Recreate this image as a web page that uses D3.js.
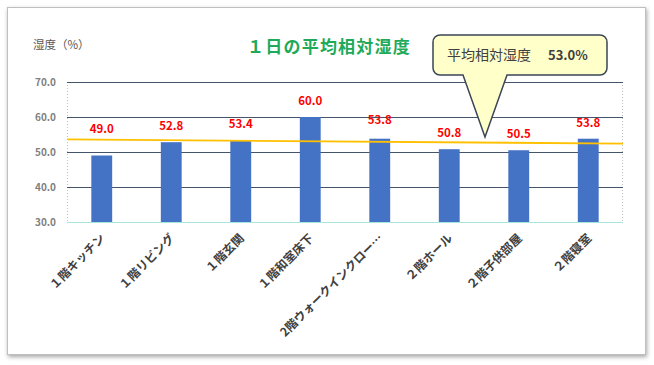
<!DOCTYPE html>
<meta charset="utf-8">
<style>
body { margin: 0; background: #fff; }
text { font-family: "Noto Sans CJK JP", "Noto Sans", sans-serif; }
.bar { fill: #4472C4; }
.grid line { stroke: #44546A; stroke-width: 1; }
.ytick { fill: #7F7F7F; font-size: 10px; font-weight: bold; }
.xlab { fill: #404040; font-size: 12px; font-weight: bold; }
.val { fill: #FF0000; font-size: 11.5px; font-weight: bold; }
</style>
<svg width="654" height="365"></svg>
<script src="https://cdn.jsdelivr.net/npm/d3@7"></script>
<script>

var categories = ["１階キッチン", "１階リビング", "１階玄関", "１階和室床下",
                  "2階ウォークインクロー…", "２階ホール", "２階子供部屋", "２階寝室"];
var humidity = [49.0, 52.8, 53.4, 60.0, 53.8, 50.8, 50.5, 53.8];
var yTicks = [30, 40, 50, 60, 70];
var avgLine = [53.6, 52.4];   // yellow line, left end / right end
var avgValue = 53.0;
var title = "１日の平均相対湿度";
var yTitle = "湿度（%）";
var calloutLabel = "平均相対湿度";

var svg = d3.select("svg");

var defs = svg.append("defs");
defs.append("filter").attr("id", "shadow")
    .attr("x", "-5%").attr("y", "-5%").attr("width", "110%").attr("height", "115%")
  .append("feDropShadow")
    .attr("dx", 1).attr("dy", 2).attr("stdDeviation", 2)
    .attr("flood-color", "#000").attr("flood-opacity", 0.35);

// outer chart frame
svg.append("rect")
    .attr("x", 7.5).attr("y", 7.5).attr("width", 638).attr("height", 347)
    .attr("fill", "#fff").attr("stroke", "#BFBFBF")
    .attr("filter", "url(#shadow)");

var plot = {left: 67, right: 623, top: 82, bottom: 222};

var x = d3.scaleBand()
    .domain(categories)
    .range([plot.left, plot.right])
    .paddingInner(0.7)
    .paddingOuter(0.35);

var y = d3.scaleLinear()
    .domain([30, 70])
    .range([plot.bottom, plot.top]);

// plot border (dotted sides)
svg.append("line")
    .attr("x1", plot.left + 0.5).attr("x2", plot.left + 0.5)
    .attr("y1", plot.top).attr("y2", plot.bottom)
    .attr("stroke", "#BFBFBF").attr("stroke-dasharray", "1,2");
svg.append("line")
    .attr("x1", plot.right - 0.5).attr("x2", plot.right - 0.5)
    .attr("y1", plot.top).attr("y2", plot.bottom)
    .attr("stroke", "#BFBFBF").attr("stroke-dasharray", "1,2");

// gridlines
svg.append("g").attr("class", "grid")
  .selectAll("line")
  .data(yTicks.filter(function(d) { return d > 30; }))
  .enter().append("line")
    .attr("x1", plot.left).attr("x2", plot.right)
    .attr("y1", function(d) { return Math.round(y(d)) + 0.5; })
    .attr("y2", function(d) { return Math.round(y(d)) + 0.5; });

// y tick labels
svg.append("g")
  .selectAll("text")
  .data(yTicks)
  .enter().append("text")
    .attr("class", "ytick")
    .attr("x", 56)
    .attr("y", function(d) { return y(d); })
    .attr("dy", "0.35em")
    .attr("text-anchor", "end")
    .text(function(d) { return d3.format(".1f")(d); });

// bars
svg.append("g")
  .selectAll("rect")
  .data(humidity)
  .enter().append("rect")
    .attr("class", "bar")
    .attr("x", function(d, i) { return x(categories[i]); })
    .attr("width", x.bandwidth())
    .attr("y", function(d) { return y(d); })
    .attr("height", function(d) { return y(30) - y(d); });

// category axis line
svg.append("line")
    .attr("x1", plot.left).attr("x2", plot.right)
    .attr("y1", plot.bottom + 0.5).attr("y2", plot.bottom + 0.5)
    .attr("stroke", "#A6E6DF");

// average line
svg.append("line")
    .attr("x1", plot.left).attr("x2", plot.right)
    .attr("y1", y(avgLine[0])).attr("y2", y(avgLine[1]))
    .attr("stroke", "#FFC000").attr("stroke-width", 1.8);

// value labels (first one lifted clear of the average line)
svg.append("g")
  .selectAll("text")
  .data(humidity)
  .enter().append("text")
    .attr("class", "val")
    .attr("x", function(d, i) { return x(categories[i]) + x.bandwidth() / 2; })
    .attr("y", function(d, i) { return y(d) - (i === 0 ? 23 : i === 4 ? 15 : 12); })
    .attr("text-anchor", "middle")
    .text(function(d) { return d3.format(".1f")(d); });

// x labels
svg.append("g")
  .selectAll("text")
  .data(categories)
  .enter().append("text")
    .attr("class", "xlab")
    .attr("transform", function(d) {
      return "translate(" + (x(d) + x.bandwidth() / 2 + 1) + "," + 236 + ") rotate(-45)";
    })
    .attr("text-anchor", "end")
    .attr("dy", "0.35em")
    .text(function(d) { return d; });

// titles
svg.append("text")
    .attr("x", 329).attr("y", 47)
    .attr("dy", "0.35em")
    .attr("text-anchor", "middle")
    .attr("fill", "#1FAA59")
    .style("font-size", "17px").style("font-weight", "bold")
    .style("letter-spacing", "1.2px")
    .text(title);

svg.append("text")
    .attr("x", 33).attr("y", 45)
    .attr("dy", "0.35em")
    .attr("fill", "#595959")
    .style("font-size", "11.5px")
    .text(yTitle);

// callout
var box = {x0: 433, x1: 607, y0: 35, y1: 75, r: 7},
    tip = {x: 485, y: 137}, base = [463, 507];
var p = d3.path();
p.moveTo(box.x0 + box.r, box.y0);
p.lineTo(box.x1 - box.r, box.y0);
p.arcTo(box.x1, box.y0, box.x1, box.y0 + box.r, box.r);
p.lineTo(box.x1, box.y1 - box.r);
p.arcTo(box.x1, box.y1, box.x1 - box.r, box.y1, box.r);
p.lineTo(base[1], box.y1);
p.lineTo(tip.x, tip.y);
p.lineTo(base[0], box.y1);
p.lineTo(box.x0 + box.r, box.y1);
p.arcTo(box.x0, box.y1, box.x0, box.y1 - box.r, box.r);
p.lineTo(box.x0, box.y0 + box.r);
p.arcTo(box.x0, box.y0, box.x0 + box.r, box.y0, box.r);
p.closePath();
svg.append("path")
    .attr("d", p.toString())
    .attr("fill", "#FFFFC9")
    .attr("stroke", "#3B4656")
    .attr("stroke-width", 1.5);

svg.append("text")
    .attr("x", 447).attr("y", 55)
    .attr("dy", "0.35em")
    .attr("fill", "#404040")
    .style("font-size", "14px")
    .text(calloutLabel);
svg.append("text")
    .attr("x", 548).attr("y", 55)
    .attr("dy", "0.35em")
    .attr("fill", "#404040")
    .style("font-size", "13px")
    .style("font-weight", "bold")
    .text(d3.format(".1f")(avgValue) + "%");

</script>
